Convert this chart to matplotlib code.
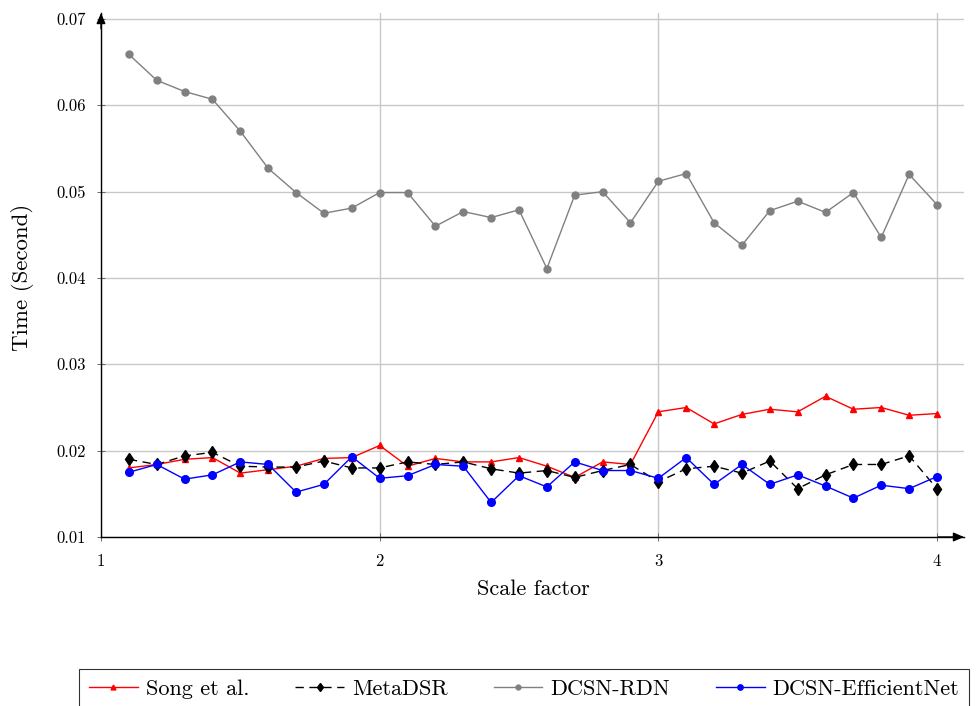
import matplotlib
matplotlib.use("Agg")
import matplotlib.pyplot as plt
import numpy as np

plt.rcParams['font.family'] = 'serif'
plt.rcParams['font.serif'] = ['cmr10', 'DejaVu Serif']
plt.rcParams['axes.formatter.use_mathtext'] = True
plt.rcParams['mathtext.fontset'] = 'cm'

# scale factors 1.1 ... 4.0
scale = [1.1, 1.2, 1.3, 1.4, 1.5, 1.6, 1.7, 1.8, 1.9, 2.0,
         2.1, 2.2, 2.3, 2.4, 2.5, 2.6, 2.7, 2.8, 2.9, 3.0,
         3.1, 3.2, 3.3, 3.4, 3.5, 3.6, 3.7, 3.8, 3.9, 4.0]

song = [0.0180, 0.0184, 0.0190, 0.0192, 0.0174, 0.0178, 0.0182, 0.0191, 0.0192, 0.0206,
        0.0182, 0.0191, 0.0187, 0.0187, 0.0192, 0.0182, 0.0169, 0.0187, 0.0184, 0.0245,
        0.0250, 0.0231, 0.0242, 0.0248, 0.0245, 0.0263, 0.0248, 0.0250, 0.0241, 0.0243]

metadsr = [0.0190, 0.0184, 0.0194, 0.0198, 0.0182, 0.0181, 0.0181, 0.0188, 0.0180, 0.0180,
           0.0187, 0.0184, 0.0187, 0.0179, 0.0174, 0.0177, 0.0169, 0.0177, 0.0184, 0.0164,
           0.0179, 0.0182, 0.0174, 0.0188, 0.0156, 0.0172, 0.0184, 0.0184, 0.0194, 0.0156]

rdn = [0.0659, 0.0629, 0.0616, 0.0607, 0.0570, 0.0527, 0.0499, 0.0475, 0.0481, 0.0499,
       0.0499, 0.0460, 0.0477, 0.0470, 0.0479, 0.0411, 0.0496, 0.0500, 0.0464, 0.0512,
       0.0521, 0.0464, 0.0438, 0.0478, 0.0489, 0.0476, 0.0499, 0.0447, 0.0520, 0.0485]

effnet = [0.0175, 0.0184, 0.0167, 0.0172, 0.0187, 0.0184, 0.0152, 0.0161, 0.0193, 0.0168,
          0.0171, 0.0184, 0.0182, 0.0140, 0.0171, 0.0158, 0.0187, 0.0177, 0.0177, 0.0168,
          0.0192, 0.0161, 0.0184, 0.0161, 0.0172, 0.0159, 0.0145, 0.0160, 0.0156, 0.0170]

xticks = [1, 2, 3, 4]
yticks = [0.01, 0.02, 0.03, 0.04, 0.05, 0.06, 0.07]

fig = plt.figure(figsize=(9.76, 7.06), dpi=100)
ax = fig.add_axes([101/976, 1-537/706, (964-101)/976, (537-13)/706])

ax.plot(scale, song, color='red', marker='^', markersize=5, lw=1, label='Song et al.')
ax.plot(scale, metadsr, color='black', marker='d', markersize=6.5, lw=1,
        dashes=(6, 4), label='MetaDSR')
ax.plot(scale, rdn, color='gray', marker='o', markersize=5, lw=1, label='DCSN-RDN')
ax.plot(scale, effnet, color='blue', marker='o', markersize=5.5, lw=1, label='DCSN-EfficientNet')

ax.set_xlim(1, 4 + 27/278.7)
ax.set_ylim(0.01, 0.07 + 6/8620)
ax.set_xticks(xticks)
ax.set_yticks(yticks)
ax.set_xticklabels([str(t) for t in xticks])
ax.set_yticklabels(['%.2f' % t for t in yticks])
ax.tick_params(labelsize=12, direction='inout', length=6, width=0.6, color='#555555')
ax.tick_params(axis='y', pad=8)
ax.tick_params(axis='x', pad=9)
ax.grid(True, color='#c8c8c8', lw=1)
ax.set_axisbelow(True)

for s in ['top', 'right']:
    ax.spines[s].set_visible(False)
for s in ['left', 'bottom']:
    ax.spines[s].set_linewidth(1)

# axis arrows
arrow = dict(arrowstyle='-|>,head_length=0.7,head_width=0.3', color='black',
             lw=1, mutation_scale=9, shrinkA=0, shrinkB=0)
ax.annotate('', xy=(0, 1.0), xytext=(0, 0.97), xycoords='axes fraction', arrowprops=arrow)
ax.annotate('', xy=(1.0, 0), xytext=(0.97, 0), xycoords='axes fraction', arrowprops=arrow)

ax.set_xlabel('Scale factor', fontsize=16)
ax.set_ylabel('Time (Second)', fontsize=16.5)
ax.xaxis.set_label_coords((533 - 101) / 863, (537 - 579) / 524)
ax.yaxis.set_label_coords((34 - 101) / 863, (537 - 277) / 524)

handles, labels = ax.get_legend_handles_labels()
leg = fig.legend(handles, labels, loc='upper left', bbox_to_anchor=(79/976, 1-669/706),
                 ncol=4, fontsize=16, frameon=True, fancybox=False, edgecolor='black',
                 handlelength=2.2, handletextpad=0.35, columnspacing=2.07,
                 borderpad=0.45, borderaxespad=0, markerscale=0.7)
leg.get_frame().set_linewidth(0.8)

fig.savefig('out.png', dpi=100)
